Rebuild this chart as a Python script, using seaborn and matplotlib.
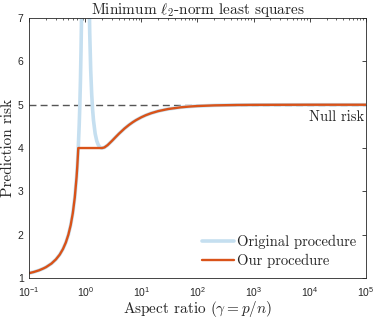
import numpy as np
import pandas as pd
import matplotlib
matplotlib.use("Agg")
import matplotlib.pyplot as plt
import seaborn as sns
from matplotlib.ticker import LogLocator, FixedLocator, NullLocator
from matplotlib.lines import Line2D

# ---- data ----
gamma_orig = [0.1, 0.12, 0.15, 0.18, 0.2, 0.25, 0.3, 0.35, 0.4, 0.45, 0.5, 0.55,
              0.6, 0.65, 0.7, 0.72, 0.74, 0.75, 0.78, 0.8, 0.82, 0.84, 0.86, 0.88,
              1.12, 1.15, 1.2, 1.25, 1.3, 1.35, 1.4, 1.5, 1.6, 1.7, 1.8, 1.9, 2.0,
              2.2, 2.5, 3, 3.5, 4, 5, 6, 7, 8, 10, 12, 15, 20, 30, 50, 70, 100,
              200, 500, 1000, 1e4, 1e5]
risk_orig = [1.111, 1.136, 1.176, 1.220, 1.25, 1.333, 1.429, 1.538, 1.667, 1.818,
             2.0, 2.222, 2.5, 2.857, 3.333, 3.571, 3.846, 4.0, 4.545, 5.0, 5.556,
             6.25, 7.14, 8.33,
             9.76, 8.19, 6.667, 5.8, 5.256, 4.894, 4.643, 4.333, 4.167, 4.076,
             4.028, 4.006, 4.0,
             4.015, 4.067, 4.167, 4.257, 4.333, 4.45, 4.533, 4.595, 4.643, 4.711,
             4.758, 4.805, 4.853, 4.901, 4.940, 4.957, 4.970, 4.985, 4.994, 4.997,
             5.0, 5.0]

gamma_ours = [0.1, 0.12, 0.15, 0.18, 0.2, 0.25, 0.3, 0.35, 0.4, 0.45, 0.5, 0.55,
              0.6, 0.65, 0.7, 0.72, 0.74, 0.75, 1.0, 1.5, 2.0,
              2.2, 2.5, 3, 3.5, 4, 5, 6, 7, 8, 10, 12, 15, 20, 30, 50, 70, 100,
              200, 500, 1000, 1e4, 1e5]
risk_ours = [1.111, 1.136, 1.176, 1.220, 1.25, 1.333, 1.429, 1.538, 1.667, 1.818,
             2.0, 2.222, 2.5, 2.857, 3.333, 3.571, 3.846, 4.0, 4.0, 4.0, 4.0,
             4.015, 4.067, 4.167, 4.257, 4.333, 4.45, 4.533, 4.595, 4.643, 4.711,
             4.758, 4.805, 4.853, 4.901, 4.940, 4.957, 4.970, 4.985, 4.994, 4.997,
             5.0, 5.0]

null_risk = 5.0
x_ticks = [1e-1, 1e0, 1e1, 1e2, 1e3, 1e4, 1e5]
y_ticks = [1, 2, 3, 4, 5, 6, 7]

labels = ["Original procedure", "Our procedure"]

# ---- styling ----
sns.set_style("white")
plt.rcParams['font.family'] = ['Liberation Sans', 'DejaVu Sans']
plt.rcParams['mathtext.fontset'] = 'cm'
plt.rcParams['axes.unicode_minus'] = False

df = pd.concat([
    pd.DataFrame({"gamma": gamma_orig, "risk": risk_orig, "method": labels[0]}),
    pd.DataFrame({"gamma": gamma_ours, "risk": risk_ours, "method": labels[1]}),
], ignore_index=True)

fig = plt.figure(figsize=(3.74, 3.18), dpi=100)
ax = fig.add_axes([0.078, 0.126, 0.900, 0.817])

ax.axhline(null_risk, color="#555555", lw=1.0, ls=(0, (5, 3)), zorder=1)

sns.lineplot(data=df, x="gamma", y="risk", hue="method", hue_order=labels,
             palette=["#c5dff0", "#d95319"], sort=False, estimator=None,
             ax=ax, legend=False, zorder=2)
lines = ax.get_lines()[1:]
lines[0].set_linewidth(2.6)
lines[1].set_linewidth(1.7)

ax.set_xscale("log")
ax.set_xlim(1e-1, 1e5)
ax.set_ylim(1, 7)
ax.xaxis.set_major_locator(FixedLocator(x_ticks))
ax.xaxis.set_minor_locator(LogLocator(base=10, subs=np.arange(2, 10), numticks=50))
ax.yaxis.set_major_locator(FixedLocator(y_ticks))
ax.yaxis.set_minor_locator(NullLocator())
ax.tick_params(axis="both", which="both", direction="in", top=True, right=True,
               labelsize=7.5, colors="#262626")
ax.tick_params(axis="x", which="both", pad=5)
ax.tick_params(axis="y", which="both", pad=4)
ax.tick_params(which="major", length=3, width=0.6)
ax.tick_params(which="minor", length=1.7, width=0.5)
for s in ax.spines.values():
    s.set_linewidth(0.6)
    s.set_color("#262626")

cm = "cmr10"
ax.set_title(r"Minimum $\ell_2$-norm least squares", fontfamily=cm, fontsize=11, pad=3)
ax.set_xlabel(r"Aspect ratio $(\gamma = p/n)$", fontfamily=cm, fontsize=11, labelpad=0)
ax.set_ylabel("Prediction risk", fontfamily=cm, fontsize=11, labelpad=2)

ax.text(0.995, (null_risk - 1) / 6 - 0.022, "Null risk", transform=ax.transAxes,
        ha="right", va="top", fontfamily=cm, fontsize=10.5, color="#262626")

handles = [Line2D([], [], color="#c5dff0", lw=2.6), Line2D([], [], color="#d95319", lw=1.7)]
ax.legend(handles, labels, loc="lower right", bbox_to_anchor=(1.0, 0.0), frameon=False,
          handlelength=2.2, handletextpad=0.2, labelspacing=0.38, borderaxespad=0.25,
          prop={"family": cm, "size": 10.5})

fig.savefig("out.png", dpi=100)
